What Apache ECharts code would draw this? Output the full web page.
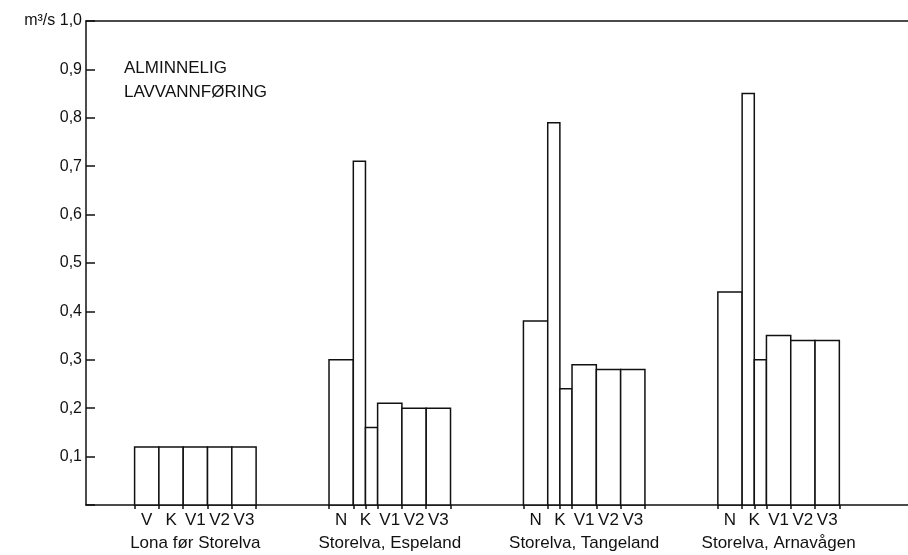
<!DOCTYPE html>
<html>
<head>
<meta charset="utf-8">
<script src="https://cdn.jsdelivr.net/npm/echarts@6/dist/echarts.min.js"></script>
<style>
  html, body { margin: 0; padding: 0; background: #fff; }
  #chart { width: 908px; height: 555px; }
</style>
</head>
<body>
<div id="chart"></div>
<script>
// stations along the x axis
const stations = ['Lona før Storelva', 'Storelva, Espeland', 'Storelva, Tangeland', 'Storelva, Arnavågen'];
const firstLabels = ['V', 'K', 'V1', 'V2', 'V3'];
const barLabels = ['N', 'K', 'V1', 'V2', 'V3'];

// alminnelig lavvannføring, m3/s
const nValues = [0.12, 0.30, 0.38, 0.44];          // "V" for Lona
const kValues = [[0.12], [0.71, 0.16], [0.79, 0.24], [0.85, 0.30]];
const v1Values = [0.12, 0.21, 0.29, 0.35];
const v2Values = [0.12, 0.20, 0.28, 0.34];
const v3Values = [0.12, 0.20, 0.28, 0.34];

const yTicks = [0.1, 0.2, 0.3, 0.4, 0.5, 0.6, 0.7, 0.8, 0.9, 1.0];

// x is counted in half bar widths
const X_MAX = 67.65;
const groupStart = g => 4 + 16 * g;

const bars = [];
const edges = [];
const labelAt = new Map();
const nameAt = new Map();

stations.forEach((name, g) => {
  const s = groupStart(g);
  const labels = g === 0 ? firstLabels : barLabels;
  bars.push([s, s + 2, nValues[g]]);
  const k = kValues[g];
  if (k.length === 1) {
    bars.push([s + 2, s + 4, k[0]]);
  } else {
    bars.push([s + 2, s + 3, k[0]]);
    bars.push([s + 3, s + 4, k[1]]);
    edges.push(s + 3);
  }
  bars.push([s + 4, s + 6, v1Values[g]]);
  bars.push([s + 6, s + 8, v2Values[g]]);
  bars.push([s + 8, s + 10, v3Values[g]]);
  for (let i = 0; i <= 10; i += 2) edges.push(s + i);
  labels.forEach((l, i) => labelAt.set(s + 1 + 2 * i, l));
  nameAt.set(s + 5, name);
});

const FONT = 'Liberation Sans';
const INK = '#111';

const chart = echarts.init(document.getElementById('chart'));

chart.setOption({
  animation: false,
  backgroundColor: '#fff',
  grid: { left: 86, right: 0, top: 21, bottom: 50 },
  graphic: [{
    type: 'text',
    left: 124,
    top: 56,
    style: {
      text: 'ALMINNELIG\nLAVVANNFØRING',
      fontFamily: FONT,
      fontSize: 17,
      lineHeight: 24,
      fill: INK
    }
  }],
  xAxis: [
    {
      type: 'value', min: 0, max: X_MAX, position: 'bottom',
      splitLine: { show: false },
      axisLine: { show: true, lineStyle: { color: INK, width: 1.5 } },
      axisTick: { show: true, customValues: edges, length: 4, lineStyle: { color: INK, width: 1.5 } },
      axisLabel: {
        customValues: [...labelAt.keys()],
        formatter: v => labelAt.get(v) || '',
        margin: 7,
        color: INK, fontFamily: FONT, fontSize: 17
      }
    },
    {
      type: 'value', min: 0, max: X_MAX, position: 'bottom',
      splitLine: { show: false },
      axisLine: { show: false },
      axisTick: { show: false },
      axisLabel: {
        customValues: [...nameAt.keys()],
        formatter: v => nameAt.get(v) || '',
        margin: 30,
        color: INK, fontFamily: FONT, fontSize: 17
      }
    },
    {
      type: 'value', min: 0, max: X_MAX, position: 'top',
      splitLine: { show: false },
      axisLine: { show: true, lineStyle: { color: INK, width: 1.5 } },
      axisTick: { show: false },
      axisLabel: { show: false }
    }
  ],
  yAxis: {
    type: 'value', min: 0, max: 1, interval: 0.1,
    splitLine: { show: false },
    axisLine: { show: true, lineStyle: { color: INK, width: 1.5 } },
    axisTick: { show: true, inside: true, length: 9, lineStyle: { color: INK, width: 1.5 } },
    axisLabel: {
      margin: 4,
      color: INK, fontFamily: FONT, fontSize: 16,
      formatter: v => {
        if (v === 0) return '';
        const t = yTicks.find(y => Math.abs(y - v) < 1e-6);
        if (t === undefined) return '';
        const s = t.toFixed(1).replace('.', ',');
        return t === 1 ? 'm³/s ' + s : s;
      }
    }
  },
  series: [{
    type: 'custom',
    xAxisIndex: 0,
    encode: { x: [0, 1], y: 2 },
    data: bars,
    renderItem: (params, api) => {
      const top = api.coord([api.value(0), api.value(2)]);
      const base = api.coord([api.value(1), 0]);
      return {
        type: 'rect',
        shape: { x: top[0], y: top[1], width: base[0] - top[0], height: base[1] - top[1] },
        style: { fill: '#fff', stroke: INK, lineWidth: 1.5 }
      };
    }
  }]
});
</script>
</body>
</html>
